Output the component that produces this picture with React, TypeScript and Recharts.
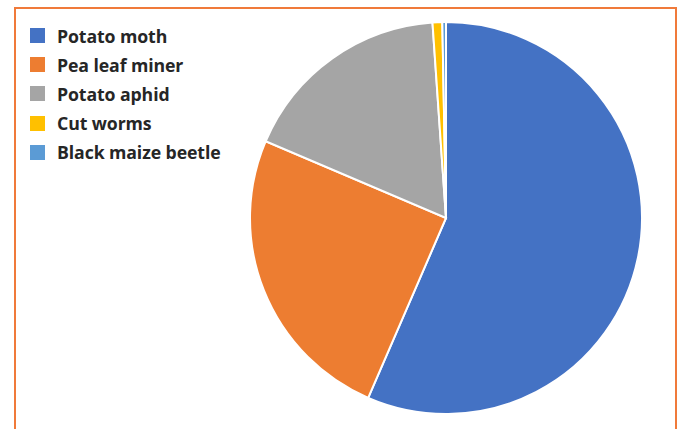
import React from "react";
import { PieChart, Pie, Cell } from "recharts";

const pests = ["Potato moth", "Pea leaf miner", "Potato aphid", "Cut worms", "Black maize beetle"];
const shares = [56.5, 24.9, 17.5, 0.8, 0.3];
const colors = ["#4472C4", "#ED7D31", "#A5A5A5", "#FFC000", "#5B9BD5"];

const data = pests.map((name, i) => ({ name, value: shares[i] }));

const font = "'Open Sans', 'Noto Sans', sans-serif";

function LegendList() {
  return (
    <div style={{ position: "absolute", left: 30, top: 21, fontFamily: font }}>
      {pests.map((name, i) => (
        <div key={name} style={{ display: "flex", alignItems: "center", height: 29.2 }}>
          <span
            style={{
              display: "inline-block",
              width: 15,
              height: 15,
              background: colors[i],
              marginRight: 12,
            }}
          />
          <span style={{ fontSize: 17.7, fontWeight: 700, color: "#262626", letterSpacing: -0.1 }}>
            {name}
          </span>
        </div>
      ))}
    </div>
  );
}

export default function App() {
  return (
    <div style={{ position: "absolute", left: 0, top: 0, width: 681, height: 429, overflow: "hidden", background: "#fff" }}>
      <div
        style={{
          position: "absolute",
          left: 14,
          top: 7,
          width: 663,
          height: 440,
          border: "2px solid #F07A3A",
          boxSizing: "border-box",
        }}
      />
      <PieChart
        width={681}
        height={429}
        margin={{ top: 0, right: 0, bottom: 0, left: 0 }}
        style={{ position: "absolute", left: 0, top: 0 }}
      >
        <Pie
          data={data}
          dataKey="value"
          nameKey="name"
          cx={446}
          cy={218}
          outerRadius={196}
          startAngle={90}
          endAngle={-270}
          stroke="#fff"
          strokeWidth={2}
          isAnimationActive={false}
        >
          {data.map((d, i) => (
            <Cell key={d.name} fill={colors[i]} />
          ))}
        </Pie>
      </PieChart>
      <LegendList />
    </div>
  );
}
